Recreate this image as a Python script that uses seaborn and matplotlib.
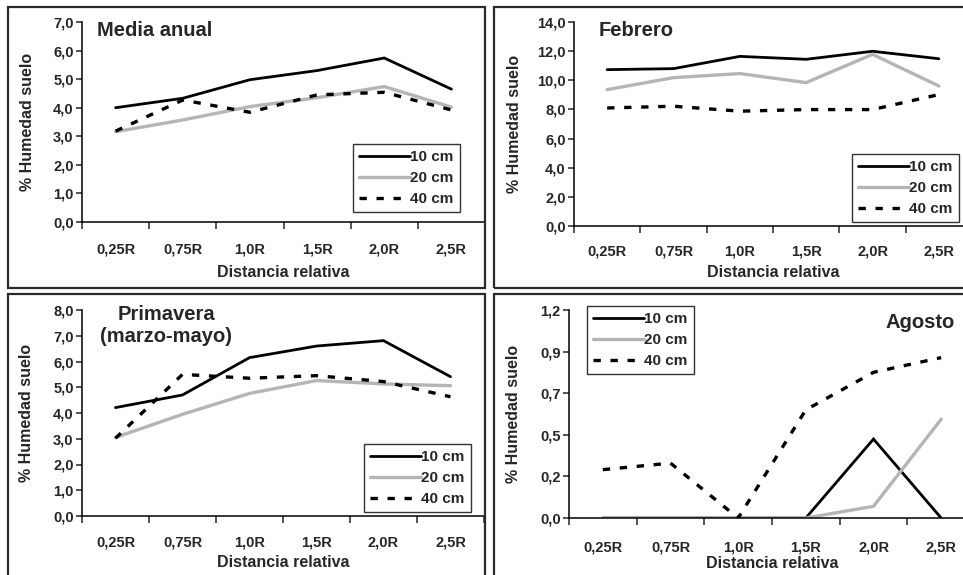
"""
Humedad del suelo por distancia relativa y profundidad (4 paneles).
"""

import matplotlib
matplotlib.use('Agg')
import matplotlib.pyplot as plt
from matplotlib.patches import Rectangle
from matplotlib.ticker import FixedLocator, FuncFormatter
import seaborn as sns
import pandas as pd

# --- data ---------------------------------------------------------------
categorias = ['0,25R', '0,75R', '1,0R', '1,5R', '2,0R', '2,5R']
profundidades = ['10 cm', '20 cm', '40 cm']

media_10 = [4.00, 4.33, 4.98, 5.30, 5.74, 4.65]
media_20 = [3.16, 3.57, 4.04, 4.35, 4.74, 4.02]
media_40 = [3.18, 4.27, 3.84, 4.45, 4.54, 3.92]

febrero_10 = [10.73, 10.80, 11.64, 11.44, 11.99, 11.48]
febrero_20 = [9.36, 10.18, 10.46, 9.84, 11.78, 9.61]
febrero_40 = [8.10, 8.22, 7.88, 7.99, 7.99, 9.02]

primavera_10 = [4.21, 4.70, 6.15, 6.60, 6.81, 5.41]
primavera_20 = [3.05, 3.95, 4.76, 5.26, 5.13, 5.06]
primavera_40 = [3.02, 5.50, 5.35, 5.45, 5.22, 4.63]

agosto_10 = [0.0, 0.0, 0.0, 0.0, 0.446, 0.0]
agosto_20 = [0.0, 0.0, 0.0, 0.0, 0.066, 0.558]
agosto_40 = [0.273, 0.310, 0.0, 0.611, 0.823, 0.906]

# --- style --------------------------------------------------------------
sns.set_style('white')
plt.rcParams['font.family'] = ['Liberation Sans', 'DejaVu Sans']
plt.rcParams['font.weight'] = 'bold'
plt.rcParams['axes.labelweight'] = 'bold'

W, H = 963, 575
fig = plt.figure(figsize=(W / 100, H / 100), dpi=100)
fig.patch.set_facecolor('white')

estilos = {
    '10 cm': dict(color='black', lw=2.0, linestyle='-'),
    '20 cm': dict(color='#b5b5b5', lw=2.4, linestyle='-'),
    '40 cm': dict(color='black', lw=2.4, linestyle=(0, (2.2, 2.9))),
}


def px_axes(x0, y_top, x1, y_bot):
    return fig.add_axes([x0 / W, 1 - y_bot / H, (x1 - x0) / W, (y_bot - y_top) / H])


def frame(x0, y0, x1, y1):
    fig.add_artist(Rectangle((x0 / W, 1 - y1 / H), (x1 - x0) / W, (y1 - y0) / H,
                             transform=fig.transFigure, fill=False,
                             edgecolor='#2a2a2a', lw=1.6, clip_on=False))


def panel(ax, box, series, ymax, ystep, xlab_pad, ylab_x, xlab_y, leg_xy):
    x0, y_top, x1, y_bot = box
    df = pd.DataFrame({
        'x': list(range(len(categorias))) * 3,
        'valor': series[0] + series[1] + series[2],
        'prof': [p for p in profundidades for _ in categorias],
    })
    for p in profundidades:
        sub = df[df['prof'] == p]
        sns.lineplot(data=sub, x='x', y='valor', ax=ax, label=p,
                     solid_joinstyle='miter', **estilos[p])

    ax.set_xlim(-0.5, 5.5)
    ax.set_ylim(0, ymax)
    nt = int(round(ymax / ystep))
    ax.yaxis.set_major_locator(FixedLocator([i * ystep for i in range(nt + 1)]))
    ax.yaxis.set_major_formatter(
        FuncFormatter(lambda v, pos: '{:.1f}'.format(v).replace('.', ',')))
    ax.set_xticks(range(len(categorias)))
    ax.set_xticklabels(categorias)
    ax.xaxis.set_minor_locator(FixedLocator([i - 0.5 for i in range(7)]))

    for s in ['top', 'right']:
        ax.spines[s].set_visible(False)
    for s in ['left', 'bottom']:
        ax.spines[s].set_color('black')
        ax.spines[s].set_linewidth(1.1)

    ax.tick_params(axis='y', direction='out', length=4, width=1.1,
                   pad=2, labelsize=10.5, left=True)
    ax.tick_params(axis='x', which='major', length=0, pad=xlab_pad, labelsize=10.5)
    ax.tick_params(axis='x', which='minor', direction='out', length=5,
                   width=1.1, bottom=True)
    for t in ax.get_xticklabels() + ax.get_yticklabels():
        t.set_fontweight('bold')

    ax.set_xlabel('Distancia relativa', fontsize=11.5, fontweight='bold')
    ax.set_ylabel('% Humedad suelo', fontsize=11.5, fontweight='bold')
    ax.yaxis.set_label_coords((ylab_x - x0) / (x1 - x0), 0.5)
    ax.xaxis.set_label_coords(0.5, -(xlab_y - y_bot) / (y_bot - y_top))
    ax.set_facecolor('none')

    leg = ax.legend(loc='upper left', bbox_to_anchor=(leg_xy[0] / W, 1 - leg_xy[1] / H),
                    bbox_transform=fig.transFigure, borderaxespad=0,
                    frameon=True, fancybox=False, framealpha=1,
                    edgecolor='#333333', handlelength=3.3,
                    handletextpad=0.05, labelspacing=0.45, borderpad=0.4,
                    prop={'weight': 'bold', 'size': 11})
    leg.get_frame().set_linewidth(1.0)


# frames of the four charts
frame(8, 7, 485, 288)
frame(494, 7, 1010, 288)
frame(8, 294, 485, 620)
frame(494, 294, 1010, 620)

# Media anual
b1 = (82, 22, 485, 222)
ax1 = px_axes(*b1)
panel(ax1, b1, [media_10, media_20, media_40], 7, 1, 15, 35, 265, (353, 144))
ax1.text(97 / W, 1 - 31 / H, 'Media anual', transform=fig.transFigure,
         fontsize=14.5, fontweight='bold', va='center', ha='left')

# Febrero
b2 = (574, 22, 972, 226)
ax2 = px_axes(*b2)
panel(ax2, b2, [febrero_10, febrero_20, febrero_40], 14, 2, 13, 522, 265, (852, 154))
ax2.text(599 / W, 1 - 31 / H, 'Febrero', transform=fig.transFigure,
         fontsize=14.5, fontweight='bold', va='center', ha='left')

# Primavera
b3 = (82, 310, 484, 516)
ax3 = px_axes(*b3)
panel(ax3, b3, [primavera_10, primavera_20, primavera_40], 8, 1, 14, 34, 555, (364, 444))
ax3.text(166 / W, 1 - 326 / H, 'Primavera\n(marzo-mayo)', transform=fig.transFigure,
         fontsize=14.5, fontweight='bold', va='center', ha='center', linespacing=1.2)

# Agosto
b4 = (569, 310, 975, 518)
ax4 = px_axes(*b4)
panel(ax4, b4, [agosto_10, agosto_20, agosto_40], 1.175, 0.235, 16, 521, 556, (587, 306))
ax4.text(955 / W, 1 - 322 / H, 'Agosto', transform=fig.transFigure,
         fontsize=14.5, fontweight='bold', va='center', ha='right')

fig.savefig('out.png', dpi=100)
